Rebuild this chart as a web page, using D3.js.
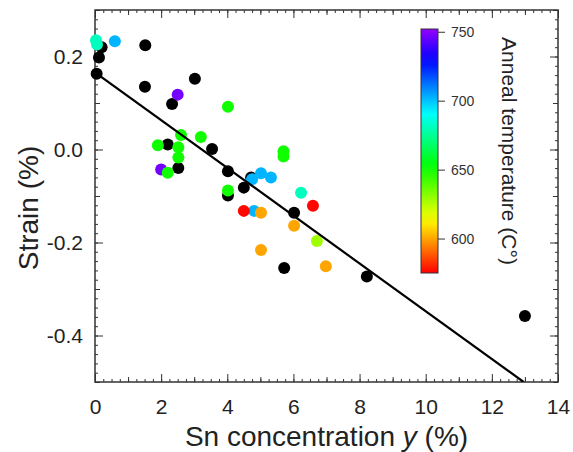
<!DOCTYPE html>
<html>
<head>
<meta charset="utf-8">
<script src="https://cdn.jsdelivr.net/npm/d3@7"></script>
<style>
  body { margin: 0; background: #fff; }
  svg { font-family: "Liberation Sans", Arial, sans-serif; }
</style>
</head>
<body>
<div id="chart"></div>
<script>
// unannealed samples first (null temperature -> black), then annealed ones
const snConc = [0.2, 0.12, 0.05, 1.52, 1.51, 3.02, 2.33, 2.2, 3.54, 2.52, 4.02, 4.72, 4.5, 4.02, 6.02, 5.72, 8.22, 13.0,
    0.03, 0.06, 6.23,
    0.6, 4.75, 5.02, 5.32, 4.81,
    2.5, 2.0,
    4.02, 2.6, 3.2, 1.9, 2.52, 2.52, 2.2, 5.7, 5.7, 4.02,
    4.5, 6.59,
    5.02, 5.02, 6.02, 6.98,
    6.71];
const strain = [0.220, 0.198, 0.163, 0.224, 0.135, 0.152, 0.098, 0.011, 0.001, -0.040, -0.047, -0.060, -0.082, -0.099, -0.136, -0.255, -0.273, -0.358,
    0.235, 0.226, -0.093,
    0.233, -0.064, -0.051, -0.060, -0.132,
    0.118, -0.043,
    0.092, 0.031, 0.027, 0.009, 0.005, -0.017, -0.050, -0.004, -0.015, -0.088,
    -0.132, -0.121,
    -0.136, -0.216, -0.164, -0.251,
    -0.197];
const annealT = [null, null, null, null, null, null, null, null, null, null, null, null, null, null, null, null, null, null,
    681, 681, 681,
    702, 702, 702, 702, 702,
    747, 747,
    650, 650, 650, 650, 650, 650, 650, 650, 650, 650,
    576, 576,
    600, 600, 600, 600,
    628];

const fitX = [0, 12.96];
const fitY = [0.166, -0.5];

const xTicks = [0, 2, 4, 6, 8, 10, 12, 14];
const yTicks = [-0.4, -0.2, 0.0, 0.2];
const yTickLabels = ["-0.4", "-0.2", "0.0", "0.2"];
const tempTicks = [600, 650, 700, 750];

const width = 573, height = 452;
const margin = { top: 10, right: 15, bottom: 70, left: 95 };
const w = width - margin.left - margin.right;
const h = height - margin.top - margin.bottom;

const svg = d3.select("#chart")
    .append("svg")
    .attr("width", width)
    .attr("height", height);

const g = svg.append("g")
    .attr("transform", `translate(${margin.left},${margin.top})`);

const x = d3.scaleLinear().domain([0, 14]).range([0, w]);
const y = d3.scaleLinear().domain([-0.5, 0.3]).range([h, 0]);

const hueOf = t => d3.hsl(t * 272, 1, 0.5).toString();
const color = d3.scaleSequential(hueOf).domain([575, 750]);

const axisColor = "#333";

// minor ticks first, then majors with labels
const xMinor = d3.range(0, 14.001, 0.25);
const xMid = d3.range(1, 14, 2);
const yMinor = d3.range(-0.5, 0.3001, 0.02);
const yMid = d3.range(-0.5, 0.31, 0.2);

function styleAxis(sel) {
    sel.select(".domain").remove();
    sel.selectAll("line").attr("stroke", axisColor).attr("stroke-width", 1);
    sel.selectAll("text").attr("fill", "#222").style("font-size", "21px");
}

// bottom
g.append("g").attr("transform", `translate(0,${h})`)
    .call(d3.axisBottom(x).tickValues(xMinor).tickSize(-3).tickFormat(""))
    .call(styleAxis);
g.append("g").attr("transform", `translate(0,${h})`)
    .call(d3.axisBottom(x).tickValues(xMid).tickSize(-5).tickFormat(""))
    .call(styleAxis);
g.append("g").attr("transform", `translate(0,${h})`)
    .call(d3.axisBottom(x).tickValues(xTicks).tickSize(-8).tickPadding(17).tickFormat(d3.format("d")))
    .call(styleAxis);
// top
g.append("g")
    .call(d3.axisTop(x).tickValues(xMinor).tickSize(-3).tickFormat(""))
    .call(styleAxis);
g.append("g")
    .call(d3.axisTop(x).tickValues(xMid).tickSize(-5).tickFormat(""))
    .call(styleAxis);
g.append("g")
    .call(d3.axisTop(x).tickValues(xTicks).tickSize(-8).tickFormat(""))
    .call(styleAxis);
// left
g.append("g")
    .call(d3.axisLeft(y).tickValues(yMinor).tickSize(-3).tickFormat(""))
    .call(styleAxis);
g.append("g")
    .call(d3.axisLeft(y).tickValues(yMid).tickSize(-5).tickFormat(""))
    .call(styleAxis);
g.append("g")
    .call(d3.axisLeft(y).tickValues(yTicks).tickSize(-8).tickPadding(12)
        .tickFormat((d, i) => yTickLabels[i]))
    .call(styleAxis);
// right
g.append("g").attr("transform", `translate(${w},0)`)
    .call(d3.axisRight(y).tickValues(yMinor).tickSize(-3).tickFormat(""))
    .call(styleAxis);
g.append("g").attr("transform", `translate(${w},0)`)
    .call(d3.axisRight(y).tickValues(yMid).tickSize(-5).tickFormat(""))
    .call(styleAxis);
g.append("g").attr("transform", `translate(${w},0)`)
    .call(d3.axisRight(y).tickValues(yTicks).tickSize(-8).tickFormat(""))
    .call(styleAxis);

g.append("rect")
    .attr("width", w)
    .attr("height", h)
    .attr("fill", "none")
    .attr("stroke", axisColor)
    .attr("stroke-width", 1.5);

// points: black ones underneath
const points = snConc.map((d, i) => ({ x: d, y: strain[i], t: annealT[i] }));

g.append("defs").append("clipPath").attr("id", "plotClip")
    .append("rect").attr("width", w).attr("height", h);

g.selectAll(".dot")
    .data(points)
    .enter()
    .append("circle")
    .attr("class", "dot")
    .attr("cx", d => x(d.x))
    .attr("cy", d => y(d.y))
    .attr("r", 6)
    .attr("fill", d => d.t === null ? "#000" : color(d.t));

// linear fit
g.append("path")
    .datum(fitX.map((d, i) => [d, fitY[i]]))
    .attr("clip-path", "url(#plotClip)")
    .attr("fill", "none")
    .attr("stroke", "#000")
    .attr("stroke-width", 2.2)
    .attr("d", d3.line().x(d => x(d[0])).y(d => y(d[1])));

// axis titles
svg.append("text")
    .attr("x", margin.left + w / 2)
    .attr("y", 446)
    .attr("text-anchor", "middle")
    .attr("fill", "#222")
    .style("font-size", "28px")
    .html('Sn concentration <tspan font-style="italic">y</tspan> (%)');

svg.append("text")
    .attr("transform", "translate(38,208) rotate(-90)")
    .attr("text-anchor", "middle")
    .attr("fill", "#222")
    .style("font-size", "28px")
    .text("Strain (%)");

// colour bar
const cb = { x: 421, y: 29, w: 17, h: 244 };
const cbScale = d3.scaleLinear().domain([575, 752]).range([cb.y + cb.h, cb.y]);

const grad = svg.append("defs").append("linearGradient")
    .attr("id", "tempGrad")
    .attr("x1", 0).attr("y1", 1).attr("x2", 0).attr("y2", 0);
d3.range(0, 1.0001, 0.05).forEach(s => {
    grad.append("stop")
        .attr("offset", s)
        .attr("stop-color", color(575 + s * 177));
});

svg.append("rect")
    .attr("x", cb.x).attr("y", cb.y)
    .attr("width", cb.w).attr("height", cb.h)
    .attr("fill", "url(#tempGrad)")
    .attr("stroke", "#333")
    .attr("stroke-width", 1);

svg.append("g")
    .attr("transform", `translate(${cb.x + cb.w},0)`)
    .call(d3.axisRight(cbScale).tickValues(tempTicks).tickSize(7).tickPadding(6).tickFormat(d3.format("d")))
    .call(sel => {
        sel.select(".domain").remove();
        sel.selectAll("line").attr("stroke", "#333");
        sel.selectAll("text").attr("fill", "#333").style("font-size", "14px");
    });

svg.append("text")
    .attr("transform", `translate(502,${cb.y + cb.h / 2}) rotate(90)`)
    .attr("text-anchor", "middle")
    .attr("fill", "#222")
    .style("font-size", "21px")
    .text("Anneal temperature (C°)");
</script>
</body>
</html>
